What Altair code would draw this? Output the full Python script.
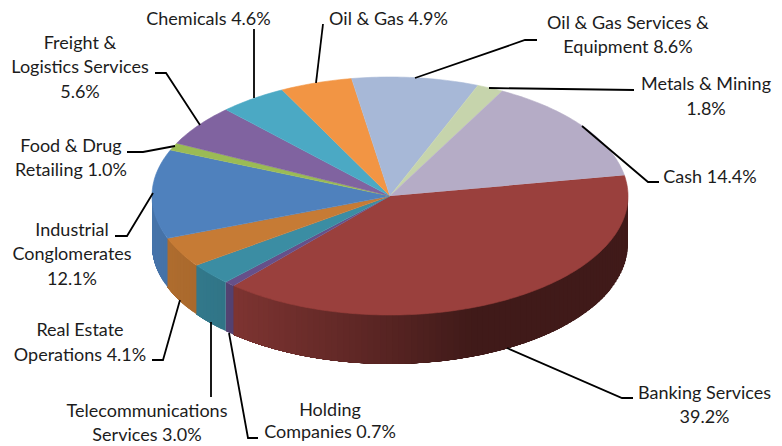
import math
import altair as alt
import pandas as pd

names = ["Banking Services", "Holding Companies", "Telecommunications Services",
         "Real Estate Operations", "Industrial Conglomerates", "Food & Drug Retailing",
         "Freight & Logistics Services", "Chemicals", "Oil & Gas",
         "Oil & Gas Services & Equipment", "Metals & Mining", "Cash"]
shares = [39.2, 0.7, 3.0, 4.1, 12.1, 1.0, 5.6, 4.6, 4.9, 8.6, 1.8, 14.4]
colors = ["#9A403D", "#66508A", "#3B8DA3", "#C67B35", "#4F81BD", "#9BBB55",
          "#8063A0", "#4BA9C4", "#F29544", "#A7B8D7", "#C6D4AC", "#B5ACC6"]

label_lines = [
    ["Banking Services", "39.2%"], ["Holding", "Companies 0.7%"],
    ["Telecommunications", "Services 3.0%"], ["Real Estate", "Operations 4.1%"],
    ["Industrial", "Conglomerates", "12.1%"], ["Food & Drug", "Retailing 1.0%"],
    ["Freight &", "Logistics Services", "5.6%"], ["Chemicals 4.6%"], ["Oil & Gas 4.9%"],
    ["Oil & Gas Services &", "Equipment 8.6%"], ["Metals & Mining", "1.8%"], ["Cash 14.4%"],
]
label_x = [704.5, 330, 147, 80, 72, 71, 80, 208.5, 388.5, 628, 706, 710]
label_y = [[399, 423], [416, 438], [417, 441], [336, 361], [236, 260, 285], [152, 176],
           [49, 73, 98], [25], [25], [29, 53], [90, 115], [183]]
leaders = [
    [(633, 398), (622, 398), (507, 348)], [(258, 438), (248, 438), (229, 333)],
    [(211, 397), (211, 322)], [(152, 360), (163, 360), (180, 300)],
    [(115, 236), (127, 236), (153, 193)], [(127, 152), (143, 152), (175, 146)],
    [(155, 73), (166, 73), (200, 125)], [(254, 29), (254, 98)],
    [(323, 24), (316, 83)], [(537, 40), (525, 40), (415, 78)],
    [(634, 90), (489, 88)], [(659, 182), (648, 182), (582, 126)],
]

CX, CY, RX, RY, DEPTH, START = 390, 196, 238, 119, 49, 80.0
shade_x = [152, 233, 400, 470, 640]
shade_k = [0.90, 0.82, 0.55, 0.42, 0.42]


def pt(a, dy=0.0):
    r = math.radians(a)
    return CX + RX * math.sin(r), CY - RY * math.cos(r) + dy


def shade(x):
    for i in range(len(shade_x) - 1):
        if x <= shade_x[i + 1]:
            t = max(0, (x - shade_x[i]) / (shade_x[i + 1] - shade_x[i]))
            return shade_k[i] + t * (shade_k[i + 1] - shade_k[i])
    return shade_k[-1]


def darker(hexc, k):
    return "#%02x%02x%02x" % tuple(int(int(hexc[j:j + 2], 16) * k) for j in (1, 3, 5))


tops, sides, pid, sid = [], [], 0, 0
a0 = START
for s, c in zip(shares, colors):
    a1 = a0 + s * 3.6
    n = max(2, int(s * 3.6) + 1)
    poly = [(CX, CY)] + [pt(a0 + (a1 - a0) * k / n) for k in range(n + 1)]
    tops += [dict(p=pid, i=i, x=x, y=y, c=c) for i, (x, y) in enumerate(poly)]
    pid += 1
    lo, hi = max(a0, 90), min(a1, 270)
    if hi > lo:
        m = max(1, int((hi - lo) / 1.5) + 1)
        for k in range(m):
            u, v = lo + (hi - lo) * k / m, lo + (hi - lo) * (k + 1) / m
            # each strip runs on to the end of its slice; the next one paints over it
            quad = [pt(u)] + [pt(u + (hi - u) * q / 6) for q in range(1, 7)]
            quad += [pt(u + (hi - u) * q / 6, DEPTH) for q in range(6, -1, -1)]
            col = darker(c, shade(pt((u + v) / 2)[0]))
            sides += [dict(p=sid, i=i, x=x, y=y, c=col) for i, (x, y) in enumerate(quad)]
            sid += 1
    a0 = a1

x_enc = alt.X("x:Q", axis=None, scale=alt.Scale(domain=[8, 774]))
y_enc = alt.Y("y:Q", axis=None, scale=alt.Scale(domain=[438, 8]))


def faces(rows, sw):
    return alt.Chart(pd.DataFrame(rows)).mark_line(
        filled=True, strokeWidth=sw, strokeJoin="round", clip=False
    ).encode(
        x=x_enc, y=y_enc, order="i:Q", detail="p:N",
        fill=alt.Fill("c:N", scale=None), stroke=alt.Stroke("c:N", scale=None),
    )


lead_rows = [dict(p=k, i=i, x=x, y=y) for k, l in enumerate(leaders) for i, (x, y) in enumerate(l)]
leader_layer = alt.Chart(pd.DataFrame(lead_rows)).mark_line(
    color="#000000", strokeWidth=1.8, clip=False
).encode(x=x_enc, y=y_enc, order="i:Q", detail="p:N")

text_rows = [dict(x=lx, y=yy, t=t)
             for lines, lx, ys in zip(label_lines, label_x, label_y)
             for t, yy in zip(lines, ys)]
text_layer = alt.Chart(pd.DataFrame(text_rows)).mark_text(
    font="Lato", fontSize=18, color="#1c1c1c", align="center", baseline="alphabetic", clip=False
).encode(x=x_enc, y=y_enc, text="t:N")

chart = alt.layer(faces(sides, 0), faces(tops, 0.6), leader_layer, text_layer).properties(
    width=766, height=430,
    padding={"left": 0, "top": 0, "right": 0, "bottom": 8},
    autosize=alt.AutoSizeParams(type="none"),
).configure_view(stroke=None)

chart.save("out.html", embed_options={"renderer": "svg", "actions": False})
